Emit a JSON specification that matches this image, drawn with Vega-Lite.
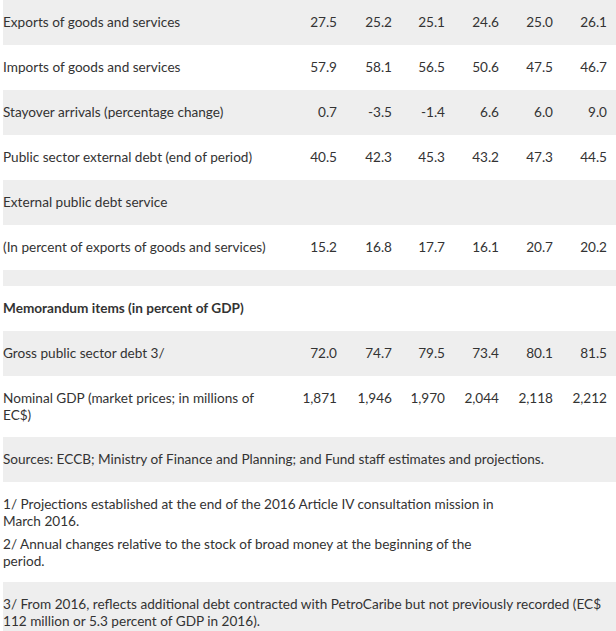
{
  "$schema": "https://vega.github.io/schema/vega-lite/v6.json",
  "width": 616,
  "height": 631,
  "padding": 0,
  "autosize": {"type": "none"},
  "background": "#ffffff",
  "config": {"view": {"stroke": null}, "text": {"font": "Lato", "fontSize": 13.6, "color": "#333333"}},
  "datasets": {
    "stripes": [{"row": 0}, {"row": 2}, {"row": 4}, {"row": 6}, {"row": 8}, {"row": 10}, {"row": 13}],
    "labels": [
      {"row": 0, "label": "Exports of goods and services"},
      {"row": 1, "label": "Imports of goods and services"},
      {"row": 2, "label": "Stayover arrivals (percentage change)"},
      {"row": 3, "label": "Public sector external debt (end of period)"},
      {"row": 4, "label": "External public debt service"},
      {"row": 5, "label": "(In percent of exports of goods and services)"},
      {"row": 8, "label": "Gross public sector debt 3/"},
      {"row": 9, "label": "Nominal GDP (market prices; in millions of\nEC$)"},
      {"row": 10, "label": "Sources: ECCB; Ministry of Finance and Planning; and Fund staff estimates and projections."},
      {"row": 11, "label": "1/ Projections established at the end of the 2016 Article IV consultation mission in\nMarch 2016."},
      {"row": 12, "label": "2/ Annual changes relative to the stock of broad money at the beginning of the\nperiod."},
      {"row": 13, "label": "3/ From 2016, reflects additional debt contracted with PetroCaribe but not previously recorded (EC$\n112 million or 5.3 percent of GDP in 2016)."}
    ],
    "headings": [{"row": 7, "label": "Memorandum items (in percent of GDP)"}],
    "values": [
      {"row": 0, "year": 2012, "value": "27.5"}, {"row": 0, "year": 2013, "value": "25.2"}, {"row": 0, "year": 2014, "value": "25.1"}, {"row": 0, "year": 2015, "value": "24.6"}, {"row": 0, "year": 2016, "value": "25.0"}, {"row": 0, "year": 2017, "value": "26.1"},
      {"row": 1, "year": 2012, "value": "57.9"}, {"row": 1, "year": 2013, "value": "58.1"}, {"row": 1, "year": 2014, "value": "56.5"}, {"row": 1, "year": 2015, "value": "50.6"}, {"row": 1, "year": 2016, "value": "47.5"}, {"row": 1, "year": 2017, "value": "46.7"},
      {"row": 2, "year": 2012, "value": "0.7"}, {"row": 2, "year": 2013, "value": "-3.5"}, {"row": 2, "year": 2014, "value": "-1.4"}, {"row": 2, "year": 2015, "value": "6.6"}, {"row": 2, "year": 2016, "value": "6.0"}, {"row": 2, "year": 2017, "value": "9.0"},
      {"row": 3, "year": 2012, "value": "40.5"}, {"row": 3, "year": 2013, "value": "42.3"}, {"row": 3, "year": 2014, "value": "45.3"}, {"row": 3, "year": 2015, "value": "43.2"}, {"row": 3, "year": 2016, "value": "47.3"}, {"row": 3, "year": 2017, "value": "44.5"},
      {"row": 5, "year": 2012, "value": "15.2"}, {"row": 5, "year": 2013, "value": "16.8"}, {"row": 5, "year": 2014, "value": "17.7"}, {"row": 5, "year": 2015, "value": "16.1"}, {"row": 5, "year": 2016, "value": "20.7"}, {"row": 5, "year": 2017, "value": "20.2"},
      {"row": 8, "year": 2012, "value": "72.0"}, {"row": 8, "year": 2013, "value": "74.7"}, {"row": 8, "year": 2014, "value": "79.5"}, {"row": 8, "year": 2015, "value": "73.4"}, {"row": 8, "year": 2016, "value": "80.1"}, {"row": 8, "year": 2017, "value": "81.5"},
      {"row": 9, "year": 2012, "value": "1,871"}, {"row": 9, "year": 2013, "value": "1,946"}, {"row": 9, "year": 2014, "value": "1,970"}, {"row": 9, "year": 2015, "value": "2,044"}, {"row": 9, "year": 2016, "value": "2,118"}, {"row": 9, "year": 2017, "value": "2,212"}
    ]
  },
  "layer": [
    {
      "data": {"name": "stripes"},
      "transform": [{"calculate": "datum.row + 1", "as": "row_end"}],
      "mark": {"type": "rect", "color": "#eeeeee"},
      "encoding": {
        "x": {"datum": 2011, "type": "quantitative", "scale": {"domain": [2010, 2011, 2012, 2013, 2014, 2015, 2016, 2017, 2018], "range": [0, 3, 337, 392, 445, 499, 553, 607, 616]}, "axis": null},
        "x2": {"datum": 2018},
        "y": {"field": "row", "type": "quantitative", "scale": {"domain": [0, 1, 2, 3, 4, 5, 6, 7, 8, 9, 10, 11, 12, 13, 14], "range": [0, 45, 90, 135, 180, 225, 270, 286, 331, 376, 437, 482, 522, 582, 631]}, "axis": null},
        "y2": {"field": "row_end"}
      }
    },
    {
      "data": {"name": "labels"},
      "mark": {"type": "text", "align": "left", "baseline": "top", "dy": 16, "lineHeight": 16.5, "lineBreak": "\n"},
      "encoding": {
        "x": {"datum": 2011, "type": "quantitative"},
        "y": {"field": "row", "type": "quantitative"},
        "text": {"field": "label"}
      }
    },
    {
      "data": {"name": "headings"},
      "mark": {"type": "text", "align": "left", "baseline": "top", "dy": 16, "fontWeight": "bold"},
      "encoding": {
        "x": {"datum": 2011, "type": "quantitative"},
        "y": {"field": "row", "type": "quantitative"},
        "text": {"field": "label"}
      }
    },
    {
      "data": {"name": "values"},
      "mark": {"type": "text", "align": "right", "baseline": "top", "dy": 16},
      "encoding": {
        "x": {"field": "year", "type": "quantitative"},
        "y": {"field": "row", "type": "quantitative"},
        "text": {"field": "value"}
      }
    }
  ]
}
